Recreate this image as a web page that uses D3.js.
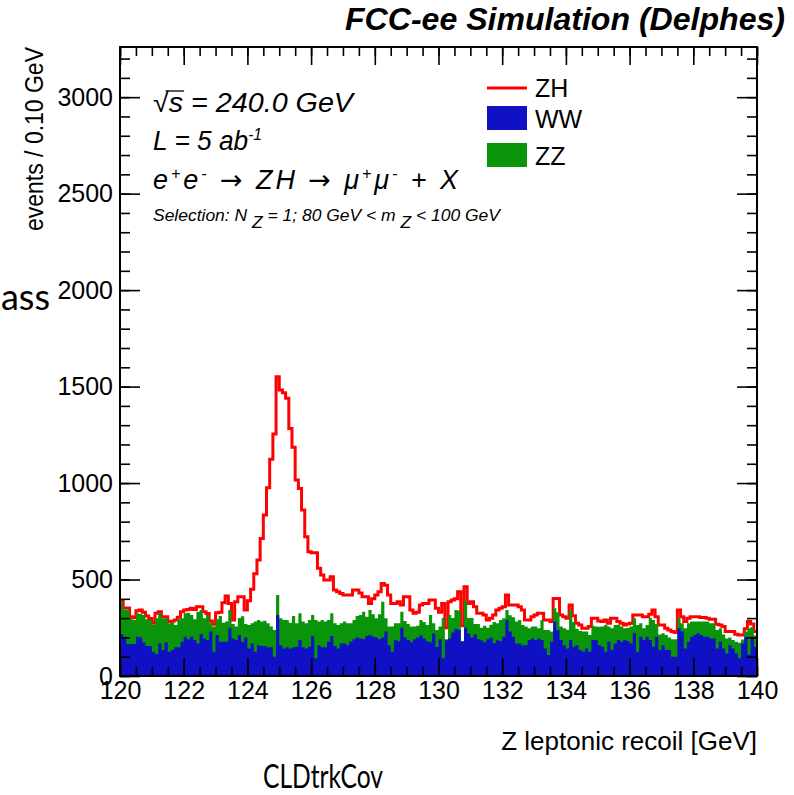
<!DOCTYPE html>
<html>
<head>
<meta charset="utf-8">
<script src="https://cdn.jsdelivr.net/npm/d3@7"></script>
<style>
  body { margin: 0; background: #fff; }
  svg { display: block; }
  text { font-family: "Liberation Sans", Arial, sans-serif; }
</style>
</head>
<body>
<div id="chart"></div>
<script>
// 200 bins of 0.1 GeV between 120 and 140 GeV
const xMin = 120, xMax = 140, binWidth = 0.1;

// WW background, events / bin
const ww = [
  218,204,166,166,166,204,200,173,155,155, 126,114,169,135,173,126,135,149,149,178,
  204,190,204,187,169,218,195,187,230,126, 212,178,178,178,247,195,187,212,178,200,
  143,169,126,160,155,155,149,149,100,316, 160,143,149,143,149,152,187,149,143,152,
  207,92,160,149,149,178,207,155,143,169, 169,160,178,190,200,195,190,207,212,205,
  200,190,200,230,160,126,187,180,250,200, 187,175,190,200,210,195,180,175,220,150,
  190,92,185,195,225,245,240,178,250,220, 200,215,190,185,175,190,200,170,185,180,
  204,290,230,204,169,169,160,160,187,195, 187,195,187,143,109,178,282,238,187,160,
  143,187,152,160,135,126,143,126,187,187, 160,152,126,178,135,169,187,178,187,180,
  169,221,126,204,187,204,187,152,204,135, 160,135,135,100,100,247,230,143,178,204,
  212,221,212,204,204,195,195,143,178,143, 117,160,143,117,92,169,204,110,204,150
];

// ZZ background, events / bin
const zz = [
  162,141,179,133,124,121,121,143,139,135, 138,185,156,164,126,147,141,115,145,121,
  121,138,112,107,164,124,104,129,46,130, 82,133,98,104,95,75,69,88,132,70,
  121,104,156,130,127,132,124,107,138,104, 139,147,141,133,162,121,138,133,130,138,
  109,198,122,141,133,112,118,118,121,104, 113,113,95,100,111,121,143,100,130,115,
  99,130,185,69,96,130,86,93,83,85, 83,81,66,60,80,85,84,141,53,88,
  66,208,5,121,75,97,100,4,140,80, 100,55,80,65,85,60,65,110,88,110,
  95,52,85,101,113,121,104,96,60,61, 69,52,103,95,129,52,69,92,69,87,
  97,153,128,85,100,104,87,86,73,69, 95,104,138,78,112,95,78,78,60,70,
  87,78,138,69,60,60,113,138,66,80, 61,77,65,90,90,52,43,104,95,78,
  70,61,70,78,78,78,78,95,69,72, 78,40,43,60,80,20,26,137,50,60
];

// ZH signal, events / bin
const zh = [
  10,8,8,8,12,13,21,14,17,8, 9,26,8,8,8,10,8,26,10,34,
  17,17,35,51,26,17,34,8,9,12, 34,19,104,133,34,20,129,111,101,72,
  126,176,248,311,431,547,703,867,1016,1131, 1183,1178,1149,1007,874,743,647,578,449,354,
  323,349,276,233,215,207,190,173,173,155, 138,147,147,156,135,114,78,104,34,80,
  121,117,95,171,164,120,103,112,35,126, 141,86,69,70,78,96,112,78,121,113,
  74,76,60,69,94,58,97,78,73,76, 85,89,55,75,56,40,34,36,69,61,
  60,78,53,63,86,69,78,34,43,51, 60,78,35,52,52,52,51,72,60,60,
  59,28,32,28,29,17,17,44,39,43, 30,26,26,17,52,35,17,17,17,20,
  17,17,52,43,60,43,20,52,37,49, 43,35,38,40,35,43,34,35,26,25,
  25,25,21,21,17,21,21,30,17,41, 35,30,44,40,40,23,15,35,15,20
];

const xTicks = [120,122,124,126,128,130,132,134,136,138,140];
const xMinor = d3.range(120, 140.01, 0.5);
const yTicks = [0,500,1000,1500,2000,2500,3000];
const yMinor = d3.range(0, 3201, 100);
const yMaxVal = 3260;

const W = 794, H = 795;
const frame = { left: 120, right: 757, top: 47, bottom: 676 };
const red = '#ff0000', blue = '#1010c4', green = '#0a940a';

const svg = d3.select('#chart').append('svg')
  .attr('width', W).attr('height', H);

const x = d3.scaleLinear().domain([xMin, xMax]).range([frame.left, frame.right]);
const y = d3.scaleLinear().domain([0, yMaxVal]).range([frame.bottom, frame.top]);

const nBins = ww.length;
const edges = d3.range(nBins + 1).map(i => xMin + i * binWidth);
const topWW = ww;
const topZZ = ww.map((v, i) => v + zz[i]);
const topAll = topZZ.map((v, i) => v + zh[i]);
const steps = tops => edges.map((e, i) => [e, tops[Math.min(i, nBins - 1)]]);

const area = d3.area().x(d => x(d[0])).y0(y(0)).y1(d => y(d[1])).curve(d3.curveStepAfter);
const line = d3.line().x(d => x(d[0])).y(d => y(d[1])).curve(d3.curveStepAfter);

// stack drawn like ROOT: sum outline first, then ZZ+WW, then WW
const plot = svg.append('g');
plot.append('path').attr('d', line(steps(topAll)))
  .attr('fill', 'none').attr('stroke', red).attr('stroke-width', 3);
plot.append('path').attr('d', area(steps(topZZ))).attr('fill', green);
plot.append('path').attr('d', area(steps(topWW))).attr('fill', blue);

// ticks (inside, on all four sides)
function ticks(axis, tx, ty, len, values) {
  svg.append('g').attr('transform', `translate(${tx},${ty})`)
    .call(axis.tickValues(values).tickSize(-len).tickFormat(''))
    .call(g => g.select('.domain').remove())
    .call(g => g.selectAll('line').attr('stroke', '#000').attr('stroke-width', 1.6));
}
ticks(d3.axisBottom(x), 0, frame.bottom, 9, xMinor);
ticks(d3.axisBottom(x), 0, frame.bottom, 18, xTicks);
ticks(d3.axisTop(x), 0, frame.top, 9, xMinor);
ticks(d3.axisTop(x), 0, frame.top, 18, xTicks);
ticks(d3.axisLeft(y), frame.left, 0, 10, yMinor);
ticks(d3.axisLeft(y), frame.left, 0, 20, yTicks);
ticks(d3.axisRight(y), frame.right, 0, 10, yMinor);
ticks(d3.axisRight(y), frame.right, 0, 20, yTicks);

svg.append('rect')
  .attr('x', frame.left).attr('y', frame.top)
  .attr('width', frame.right - frame.left).attr('height', frame.bottom - frame.top)
  .attr('fill', 'none').attr('stroke', '#000').attr('stroke-width', 2);

// tick labels
svg.append('g').attr('transform', `translate(0,${frame.bottom})`)
  .call(d3.axisBottom(x).tickValues(xTicks).tickSize(0).tickPadding(5).tickFormat(d3.format('d')))
  .call(g => g.select('.domain').remove())
  .attr('font-family', null).attr('font-size', 25)
  .selectAll('text').attr('fill', '#000');

svg.append('g').attr('transform', `translate(${frame.left - 1},0)`)
  .call(d3.axisLeft(y).tickValues(yTicks).tickSize(0).tickPadding(6).tickFormat(d3.format('d')))
  .call(g => g.select('.domain').remove())
  .attr('font-family', null).attr('font-size', 25)
  .selectAll('text').attr('fill', '#000');

function label(px, py, anchor, size, opts = {}) {
  const t = svg.append('text')
    .attr('transform', `translate(${px},${py})${opts.rotate ? ' rotate(-90)' : ''}`)
    .attr('text-anchor', anchor)
    .attr('font-size', size)
    .attr('fill', '#000');
  if (opts.italic) t.attr('font-style', 'italic');
  if (opts.bold) t.attr('font-weight', 'bold');
  if (opts.family) t.style('font-family', opts.family);
  if (opts.len) t.attr('textLength', opts.len).attr('lengthAdjust', opts.adjust || 'spacingAndGlyphs');
  return t;
}

label(785, 30, 'end', 31, { italic: true, bold: true, len: 440 }).text('FCC-ee Simulation (Delphes)');
label(43, 47, 'end', 26, { rotate: true, len: 184 }).text('events / 0.10 GeV');
label(757, 750, 'end', 26).text('Z leptonic recoil [GeV]');
label(323, 788, 'middle', 33, { family: 'Lato, "Open Sans", sans-serif', len: 120 }).text('CLDtrkCov');
label(50, 310, 'end', 36, { family: 'Lato, "Open Sans", sans-serif' }).text('Mass');

// annotations
const sq = label(153, 112, 'start', 27, { italic: true, len: 200 });
sq.append('tspan').attr('font-style', 'normal').text('√');
sq.append('tspan').text('s');
sq.append('tspan').text(' = 240.0 GeV');
const sNode = sq.node();
const e0 = sNode.getExtentOfChar(0), e1 = sNode.getExtentOfChar(1);
svg.append('line')
  .attr('transform', 'translate(153,112)')
  .attr('x1', e0.x + e0.width * 0.8).attr('x2', e1.x + e1.width + 1)
  .attr('y1', e0.y + 3).attr('y2', e0.y + 3)
  .attr('stroke', '#000').attr('stroke-width', 1.3);

const lum = label(153, 150, 'start', 27, { italic: true, len: 109 });
lum.append('tspan').text('L = 5 ab');
lum.append('tspan').attr('dy', -10).attr('font-size', 16).text('-1');

const arrowFont = '"DejaVu Sans", sans-serif';
const proc = label(153, 189, 'start', 27, { italic: true, len: 305, adjust: 'spacing' });
proc.append('tspan').text('e');
proc.append('tspan').attr('dy', -10).attr('font-size', 16).text('+');
proc.append('tspan').attr('dy', 10).text('e');
proc.append('tspan').attr('dy', -10).attr('font-size', 16).text('-');
proc.append('tspan').attr('dy', 10).text(' ');
proc.append('tspan').attr('font-style', 'normal').style('font-family', arrowFont).text('→');
proc.append('tspan').text(' ZH ');
proc.append('tspan').attr('font-style', 'normal').style('font-family', arrowFont).text('→');
proc.append('tspan').text(' μ');
proc.append('tspan').attr('dy', -10).attr('font-size', 16).text('+');
proc.append('tspan').attr('dy', 10).text('μ');
proc.append('tspan').attr('dy', -10).attr('font-size', 16).text('-');
proc.append('tspan').attr('dy', 10).text(' + X');

const sel = label(153, 221, 'start', 17, { italic: true, len: 347 });
sel.append('tspan').text('Selection: N ');
sel.append('tspan').attr('dy', 7).text('Z');
sel.append('tspan').attr('dy', -7).text(' = 1; 80 GeV < m ');
sel.append('tspan').attr('dy', 7).text('Z');
sel.append('tspan').attr('dy', -7).text(' < 100 GeV');

// legend
const lg = { x: 487, w: 40 };
svg.append('line').attr('x1', lg.x).attr('x2', lg.x + lg.w).attr('y1', 88).attr('y2', 88)
  .attr('stroke', red).attr('stroke-width', 3);
svg.append('rect').attr('x', lg.x).attr('y', 106).attr('width', lg.w).attr('height', 24).attr('fill', blue);
svg.append('rect').attr('x', lg.x).attr('y', 143).attr('width', lg.w).attr('height', 24).attr('fill', green);
label(535, 97, 'start', 25).text('ZH');
label(535, 128, 'start', 25).text('WW');
label(535, 165, 'start', 25).text('ZZ');
</script>
</body>
</html>
